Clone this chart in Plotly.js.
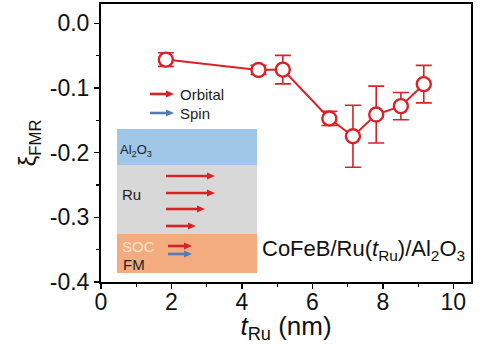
<!DOCTYPE html>
<html>
<head>
<meta charset="utf-8">
<script src="https://cdn.plot.ly/plotly-3.0.1.min.js"></script>
<style>html,body{margin:0;padding:0;background:#fff;}#chart{width:483px;height:344px;}</style>
</head>
<body>
<div id="chart"></div>
<script>
// Data
const tRu = [1.84, 4.47, 5.16, 6.48, 7.15, 7.81, 8.51, 9.16];
const xiFMR = [-0.056, -0.072, -0.0715, -0.147, -0.1745, -0.141, -0.128, -0.094];
const xiErr = [0.0105, 0.007, 0.022, 0.011, 0.048, 0.044, 0.021, 0.029];
const yTickVals = [0, -0.1, -0.2, -0.3, -0.4];
const yTickText = ['0.0', '-0.1', '-0.2', '-0.3', '-0.4'];
const xTickVals = [0, 2, 4, 6, 8, 10];
const xTickText = ['0', '2', '4', '6', '8', '10'];

const RED = 'rgb(215,35,40)';
const BLUE = 'rgb(80,125,180)';
const FONT = 'Arial, Liberation Sans, sans-serif';
const W = 483, H = 344, L = 101, R = 12, T = 4, B = 62;
const pw = W - L - R, ph = H - T - B;
const px = v => (v - L) / pw;
const py = v => (H - B - v) / ph;

const trace = {
  x: tRu, y: xiFMR, type: 'scatter', mode: 'lines+markers',
  line: {color: RED, width: 2},
  marker: {symbol: 'circle', size: 14, color: '#fff', line: {width: 2.4, color: RED}},
  error_y: {type: 'data', array: xiErr, visible: true, color: RED, thickness: 1.6, width: 8},
  showlegend: false, hoverinfo: 'none'
};

const shapes = [
  {type: 'rect', xref: 'paper', yref: 'paper', x0: px(117), x1: px(257), y0: py(165), y1: py(129), fillcolor: 'rgb(160,198,232)', line: {width: 0}, layer: 'below'},
  {type: 'rect', xref: 'paper', yref: 'paper', x0: px(117), x1: px(257), y0: py(234), y1: py(165), fillcolor: 'rgb(216,216,216)', line: {width: 0}, layer: 'below'},
  {type: 'rect', xref: 'paper', yref: 'paper', x0: px(117), x1: px(257), y0: py(273), y1: py(234), fillcolor: 'rgb(242,172,128)', line: {width: 0}, layer: 'below'}
];

function arrow(x0, x1, y, color) {
  const hl = 8, hw = 3.6;
  shapes.push({type: 'line', xref: 'paper', yref: 'paper', x0: px(x0), x1: px(x1 - hl + 1), y0: py(y), y1: py(y), line: {color: color, width: 2.6}});
  const p = 'M' + px(x1 - hl) + ',' + py(y - hw) + ' L' + px(x1) + ',' + py(y) + ' L' + px(x1 - hl) + ',' + py(y + hw) + ' Z';
  shapes.push({type: 'path', xref: 'paper', yref: 'paper', path: p, fillcolor: color, line: {width: 0}});
}
arrow(150, 174, 94, RED); arrow(150, 174, 113, BLUE);
arrow(166, 215, 176, RED); arrow(166, 215, 193, RED); arrow(166, 205, 209, RED); arrow(166, 196, 226, RED);
arrow(168, 192, 246, RED); arrow(168, 192, 254, BLUE);

function label(x, y, text, size, color, anchor) {
  return {x: px(x), y: py(y), xref: 'paper', yref: 'paper', text: text, showarrow: false,
    xanchor: anchor || 'left', yanchor: 'middle', font: {family: FONT, size: size, color: color || '#222'}};
}
const annotations = [
  label(178, 94, 'Orbital', 15), label(178, 113, 'Spin', 15),
  label(118, 150, 'Al<sub>2</sub>O<sub>3</sub>', 13),
  label(120, 194, 'Ru', 15),
  label(120, 246, 'SOC', 15, 'rgb(252,228,210)'),
  label(121, 264, 'FM', 15),
  label(260, 250, 'CoFeB/Ru(<i>t</i><sub>Ru</sub>)/Al<sub>2</sub>O<sub>3</sub>', 22, '#111')
];

const axisCommon = {
  showline: true, linecolor: '#000', linewidth: 2, mirror: true, ticks: 'outside', ticklen: 5, tickwidth: 1.5, tickcolor: '#000',
  showgrid: false, zeroline: false, tickfont: {family: FONT, size: 23, color: '#111'}
};

const layout = {
  width: W, height: H, margin: {l: L, r: R, t: T, b: B},
  paper_bgcolor: '#fff', plot_bgcolor: '#fff',
  xaxis: Object.assign({}, axisCommon, {range: [0, 10.5], tickmode: 'array', tickvals: xTickVals, ticktext: xTickText,
    ticklabelstandoff: -7,
    minor: {ticks: 'outside', ticklen: 3, tickwidth: 1.2, tickcolor: '#000', dtick: 1, tick0: 0},
    title: {text: '<i>t</i><sub>Ru</sub> (nm)', font: {family: FONT, size: 26, color: '#111'}, standoff: 2}}),
  yaxis: Object.assign({}, axisCommon, {range: [-0.4, 0.03], tickmode: 'array', tickvals: yTickVals, ticktext: yTickText,
    minor: {ticks: 'outside', ticklen: 3, tickwidth: 1.2, tickcolor: '#000', dtick: 0.05, tick0: 0},
    title: {text: 'ξ<sub>FMR</sub>', font: {family: FONT, size: 24, color: '#111'}, standoff: 6}}),
  shapes: shapes, annotations: annotations
};

Plotly.newPlot('chart', [trace], layout, {staticPlot: true, displayModeBar: false});
</script>
</body>
</html>
